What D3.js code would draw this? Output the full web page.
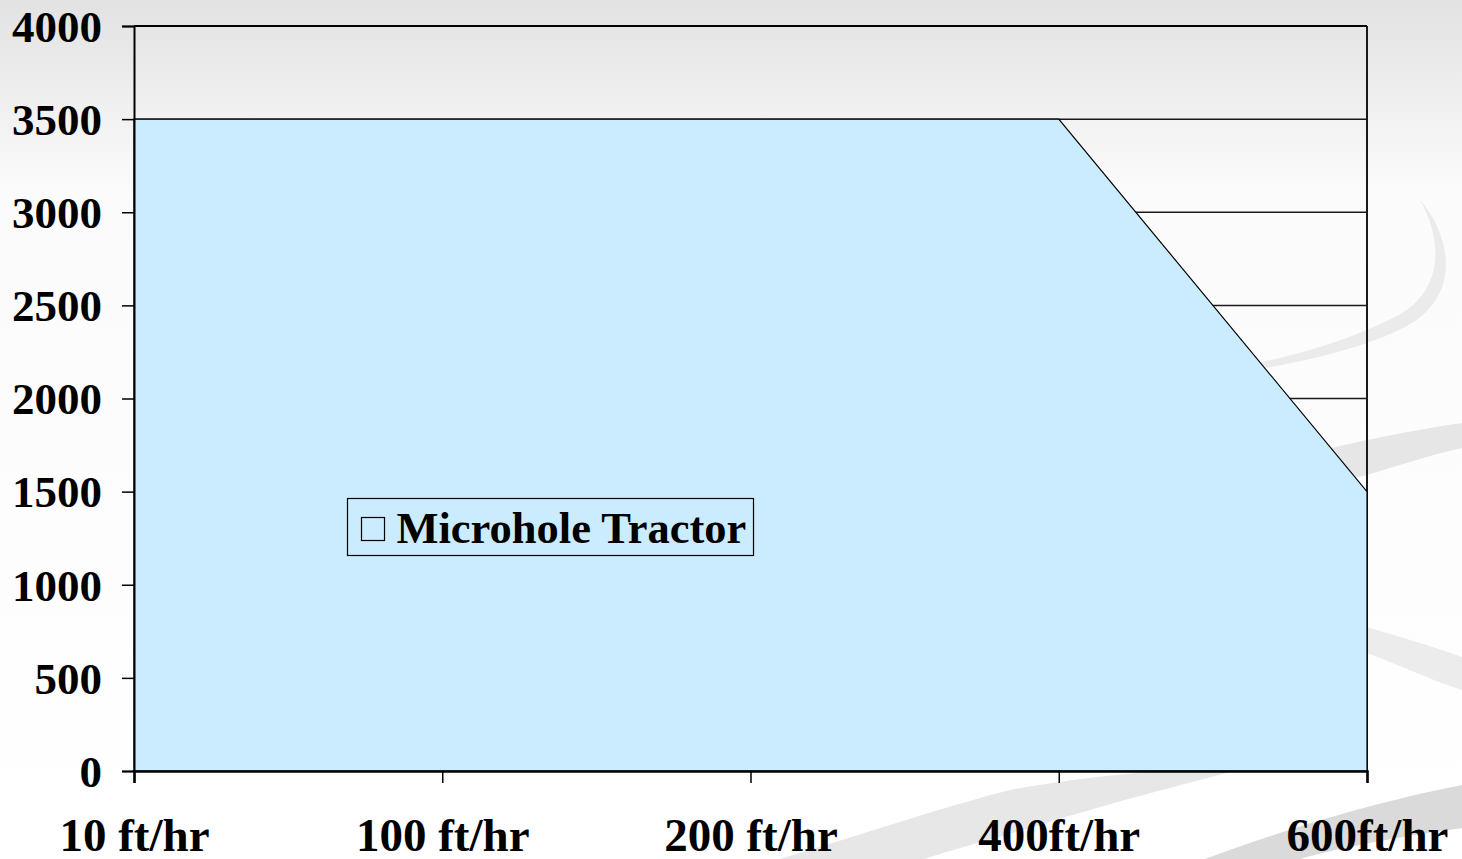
<!DOCTYPE html>
<html>
<head>
<meta charset="utf-8">
<script src="https://cdn.jsdelivr.net/npm/d3@7"></script>
<style>
  html, body { margin: 0; padding: 0; overflow: hidden; }
  svg { display: block; }
  text { font-family: "Liberation Serif", "DejaVu Serif", serif; font-weight: bold; fill: #000; }
</style>
</head>
<body>
<div id="chart"></div>
<script>
// chart data
const categories = ['10 ft/hr', '100 ft/hr', '200 ft/hr', '400ft/hr', '600ft/hr'];
const tractorValues = [3500, 3500, 3500, 3500, 1500];
const yTicks = [0, 500, 1000, 1500, 2000, 2500, 3000, 3500, 4000];
const seriesName = 'Microhole Tractor';

const width = 1462;
const height = 859;
const margin = { top: 26, right: 95, bottom: 88, left: 134 };

const svg = d3.select('#chart')
  .append('svg')
  .attr('width', width)
  .attr('height', height);

// slide background
const defs = svg.append('defs');
const bg = defs.append('linearGradient')
  .attr('id', 'bg')
  .attr('x1', 0).attr('y1', 0).attr('x2', 0).attr('y2', 1);
bg.append('stop').attr('offset', '0').attr('stop-color', '#e2e2e2');
bg.append('stop').attr('offset', '0.22').attr('stop-color', '#fbfbfb');
bg.append('stop').attr('offset', '1').attr('stop-color', '#ffffff');

svg.append('rect')
  .attr('width', width)
  .attr('height', height)
  .attr('fill', 'url(#bg)');

// decorative swooshes on the right side of the slide
const swooshes = [
  { d: 'M1420,200 C1452,236 1462,298 1405,327 C1360,350 1300,362 1255,370 L1262,362 C1310,352 1365,334 1402,313 C1440,290 1445,244 1420,200 Z', fill: '#ebebeb' },
  { d: 'M1250,470 C1300,455 1340,446 1367,440 C1400,433 1435,427 1462,423 L1462,448 C1430,455 1400,465 1367,475 C1330,484 1290,485 1250,486 Z', fill: '#e6e6e6' },
  { d: 'M1250,600 C1300,610 1340,618 1367,627 C1400,637 1435,647 1462,657 L1462,690 C1430,680 1400,665 1367,653 C1330,642 1290,632 1250,625 Z', fill: '#ececec' },
  { d: 'M780,859 C860,835 950,805 1010,790 C1090,775 1180,768 1250,767 C1200,780 1120,800 1040,825 C990,840 950,850 925,859 Z', fill: '#e7e7e7' },
  { d: 'M1205,859 C1270,835 1360,805 1462,785 L1462,828 C1390,838 1330,850 1300,859 Z', fill: '#dadada' }
];
svg.append('g')
  .selectAll('path')
  .data(swooshes)
  .enter()
  .append('path')
  .attr('d', d => d.d)
  .attr('fill', d => d.fill);

const x = d3.scalePoint()
  .domain(categories)
  .range([margin.left, width - margin.right]);

const y = d3.scaleLinear()
  .domain([0, 4000])
  .range([height - margin.bottom, margin.top]);

const x0 = x(categories[0]);
const x1 = x(categories[categories.length - 1]);

// gridlines
svg.append('g')
  .selectAll('line')
  .data(yTicks.filter(t => t > 0))
  .enter()
  .append('line')
  .attr('x1', x0)
  .attr('x2', x1)
  .attr('y1', d => y(d))
  .attr('y2', d => y(d))
  .attr('stroke', '#1a1a1a')
  .attr('stroke-width', 1.5);

// right border of plot area
svg.append('line')
  .attr('x1', x1).attr('x2', x1)
  .attr('y1', y(4000)).attr('y2', y(0))
  .attr('stroke', '#1a1a1a')
  .attr('stroke-width', 2);

// area series
const area = d3.area()
  .x((d, i) => x(categories[i]))
  .y0(y(0))
  .y1(d => y(d));

svg.append('path')
  .datum(tractorValues)
  .attr('d', area)
  .attr('fill', '#cbebfe')
  .attr('stroke', '#000')
  .attr('stroke-width', 1.2);

// top border
svg.append('line')
  .attr('x1', x0).attr('x2', x1)
  .attr('y1', y(4000)).attr('y2', y(4000))
  .attr('stroke', '#000')
  .attr('stroke-width', 2);

// y axis
const yAxis = svg.append('g')
  .attr('transform', `translate(${x0},0)`)
  .call(d3.axisLeft(y).tickValues(yTicks).tickSize(12).tickPadding(20).tickFormat(d3.format('d')));
yAxis.select('.domain').attr('stroke', '#000').attr('stroke-width', 2);
yAxis.selectAll('.tick line').attr('stroke', '#000').attr('stroke-width', 1.5);
yAxis.selectAll('.tick text')
  .attr('font-size', 45)
  .attr('dy', '0.34em')
  .style('font-family', '"Liberation Serif", serif')
  .style('font-weight', 'bold')
  .attr('fill', '#000');

// x axis
const xAxis = svg.append('g')
  .attr('transform', `translate(0,${y(0)})`)
  .call(d3.axisBottom(x).tickSize(12).tickPadding(35));
xAxis.select('.domain').attr('stroke', '#000').attr('stroke-width', 2.5);
xAxis.selectAll('.tick line').attr('stroke', '#000').attr('stroke-width', 1.5);
xAxis.selectAll('.tick text')
  .attr('font-size', 47)
  .attr('dy', '0.71em')
  .style('font-family', '"Liberation Serif", serif')
  .style('font-weight', 'bold')
  .attr('fill', '#000');

// legend
const legend = svg.append('g').attr('transform', 'translate(347.5,498.5)');
legend.append('rect')
  .attr('width', 406)
  .attr('height', 57)
  .attr('fill', 'none')
  .attr('stroke', '#000')
  .attr('stroke-width', 1.2);
legend.append('rect')
  .attr('x', 14)
  .attr('y', 19)
  .attr('width', 23)
  .attr('height', 23)
  .attr('fill', 'none')
  .attr('stroke', '#000')
  .attr('stroke-width', 1.2);
legend.append('text')
  .attr('x', 49)
  .attr('y', 44)
  .attr('font-size', 44.5)
  .text(seriesName);
</script>
</body>
</html>
